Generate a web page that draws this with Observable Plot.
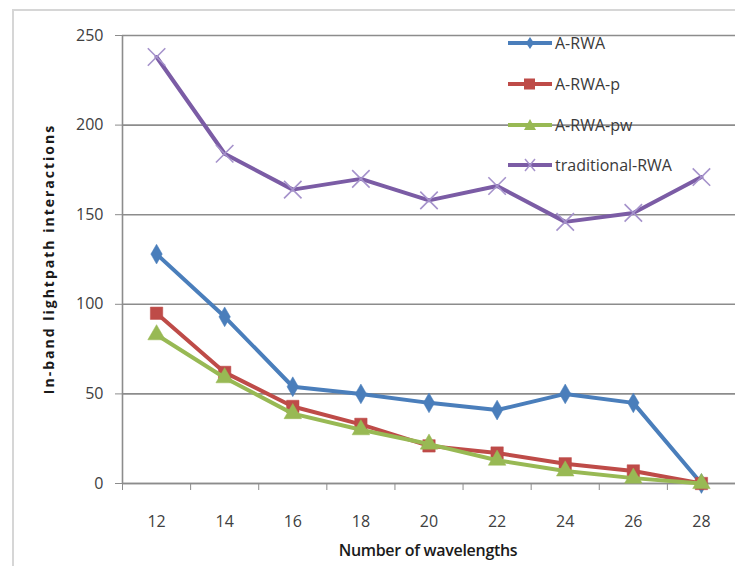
<!DOCTYPE html>
<html><head><meta charset="utf-8">
<script src="https://cdn.jsdelivr.net/npm/d3@7"></script>
<script src="https://cdn.jsdelivr.net/npm/@observablehq/plot@0.6"></script>
<style>
body{margin:0;background:#fff;}
#wrap{position:relative;width:735px;height:566px;overflow:hidden;font-family:"Open Sans",sans-serif;background:#fff;}
#chart{position:absolute;left:0;top:0;}
#frame{position:absolute;left:12px;top:9px;width:760px;height:620px;border:2px solid #d6d6d6;box-sizing:border-box;pointer-events:none;}
.ttl{position:absolute;white-space:nowrap;color:#1a1a1a;font-weight:700;}
#ytitle{left:48px;top:259px;transform:translate(-50%,-50%) rotate(-90deg);font-size:14px;letter-spacing:2px;}
#xtitle{left:428px;top:550px;transform:translate(-50%,-50%);font-size:16px;font-weight:600;letter-spacing:-0.3px;}
.item{position:absolute;left:508px;display:flex;align-items:center;white-space:nowrap;font-size:16px;color:#3a3a3a;transform:translateY(-50%);}
.item svg{margin-right:3px;}
</style></head><body>
<div id="wrap"><div id="chart"></div><div id="frame"></div>
<div id="ytitle" class="ttl"></div><div id="xtitle" class="ttl"></div><div id="legend"></div></div>
<script>
const categories = [12, 14, 16, 18, 20, 22, 24, 26, 28];
const seriesNames = ["A-RWA", "A-RWA-p", "A-RWA-pw", "traditional-RWA"];
const aRWA        = [128, 93, 54, 50, 45, 41, 50, 45, 0];
const aRWAp       = [95, 62, 43, 33, 21, 17, 11, 7, 0];
const aRWApw      = [83, 59, 39, 30, 22, 13, 7, 3, 0];
const traditional = [238, 184, 164, 170, 158, 166, 146, 151, 171];
const yTicks = [0, 50, 100, 150, 200, 250];
const xTitle = "Number of wavelengths";
const yTitle = "In-band lightpath interactions";

const seriesValues = [aRWA, aRWAp, aRWApw, traditional];
const colors = ["#4a7ebb", "#be4b48", "#98b954", "#7b5ca5"];
const markerColors = ["#4a7ebb", "#be4b48", "#98b954", "#a592cb"];
const symbols = ["diamond", "square", "triangle", "times"];
const radii = [6, 7, 6.5, 8];

const rows = seriesNames.flatMap((s, si) =>
  categories.map((c, i) => ({series: s, x: c, y: seriesValues[si][i]})));

// category boundaries for the tick marks between categories
const step = categories[1] - categories[0];
const bounds = [categories[0] - step / 2, ...categories.map(c => c + step / 2)];

const seriesMarks = seriesNames.flatMap((s, si) => {
  const data = rows.filter(r => r.series === s);
  const isStroke = symbols[si] === "times";
  return [
    Plot.line(data, {x: "x", y: "y", stroke: colors[si], strokeWidth: 4}),
    Plot.dot(data, {x: "x", y: "y", symbol: symbols[si], r: radii[si],
      fill: isStroke ? "none" : markerColors[si],
      stroke: markerColors[si], strokeWidth: isStroke ? 1.6 : 0.5})
  ];
});

const chart = Plot.plot({
  width: 735, height: 566,
  marginLeft: 122, marginRight: 0, marginTop: 35, marginBottom: 83,
  style: {background: "transparent", fontFamily: "'Open Sans', sans-serif", fontSize: "16px", color: "#404040", overflow: "visible"},
  x: {type: "linear", domain: [bounds[0], bounds[bounds.length - 1]]},
  y: {domain: [yTicks[0], yTicks[yTicks.length - 1]]},
  marks: [
    Plot.gridY(yTicks, {stroke: "#8c8c8c", strokeOpacity: 1, strokeWidth: 1.6}),
    Plot.ruleX([bounds[0]], {stroke: "#8c8c8c", strokeWidth: 1.6}),
    Plot.ruleY([yTicks[0]], {stroke: "#8c8c8c", strokeWidth: 1.6}),
    Plot.axisX(bounds, {tickSize: 7, tickFormat: () => "", stroke: "#8c8c8c", label: null}),
    Plot.axisX(categories, {tickSize: 0, tickPadding: 32, tickFormat: d => String(d), label: null, fill: "#404040"}),
    Plot.axisY(yTicks, {tickSize: 7, tickPadding: 12, stroke: "#8c8c8c", label: null, fill: "#404040"}),
    ...seriesMarks
  ]
});
document.getElementById("chart").appendChild(chart);
document.getElementById("xtitle").textContent = xTitle;
document.getElementById("ytitle").textContent = yTitle;

// legend
const legendY = [43, 84, 125, 165];
const lg = document.getElementById("legend");
seriesNames.forEach((s, si) => {
  const item = document.createElement("div");
  item.className = "item";
  item.style.top = legendY[si] + "px";
  let marker = "";
  if (symbols[si] === "diamond") marker = `<path d="M22,1 L26,7 L22,13 L18,7Z" fill="${markerColors[si]}"/>`;
  if (symbols[si] === "square") marker = `<rect x="16" y="1.5" width="11" height="11" fill="${markerColors[si]}"/>`;
  if (symbols[si] === "triangle") marker = `<path d="M22,1 L28,12 L16,12Z" fill="${markerColors[si]}"/>`;
  if (symbols[si] === "times") marker = `<path d="M17,1 L27,13 M27,1 L17,13" stroke="${markerColors[si]}" stroke-width="1.5"/>`;
  item.innerHTML = `<svg width="44" height="14"><line x1="0" x2="44" y1="7" y2="7" stroke="${colors[si]}" stroke-width="4"/>${marker}</svg><span>${s}</span>`;
  lg.appendChild(item);
});
</script>
</body></html>
